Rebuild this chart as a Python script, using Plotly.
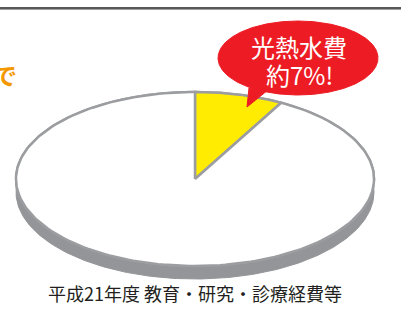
import numpy as np
import plotly.graph_objects as go

# ---- data ----
categories = ["光熱水費", "その他"]
shares = [8.0, 92.0]          # slice sizes (percent)
bubble_lines = ["光熱水費", "約7%!"]
caption = "平成21年度 教育・研究・診療経費等"
side_text = "で"

# ---- geometry (pixel-space figure) ----
W, H = 401, 316
cx, cy, rx, ry, depth = 195, 179, 179, 87, 13
slice_colors = ["#FFEC00", "#FFFFFF"]
rim = "#9C9DA0"
side_col = "#939598"

def ell(c_x, c_y, a, b, t):
    return c_x + a * np.sin(t), c_y - b * np.cos(t)

fig = go.Figure()

# side (depth) of the disc
t = np.linspace(0, 2 * np.pi, 400)
x, y = ell(cx, cy + depth, rx, ry, t)
fig.add_trace(go.Scatter(x=x, y=y, fill="toself", fillcolor=side_col, mode="lines",
                         line=dict(color=side_col, width=1), hoverinfo="skip"))
# top face
x, y = ell(cx, cy, rx, ry, t)
fig.add_trace(go.Scatter(x=x, y=y, fill="toself", fillcolor="#FFFFFF", mode="lines",
                         line=dict(color=rim, width=2.5), hoverinfo="skip"))

# slices, clockwise from 12 o'clock
start = 0.0
for name, s, col in zip(categories, shares, slice_colors):
    end = start + s / 100 * 2 * np.pi
    tt = np.linspace(start, end, 200)
    ax_, ay_ = ell(cx, cy, rx, ry, tt)
    xs = np.concatenate([[cx], ax_, [cx]])
    ys = np.concatenate([[cy], ay_, [cy]])
    fig.add_trace(go.Scatter(x=xs, y=ys, fill="toself", fillcolor=col, mode="lines",
                             line=dict(color=rim, width=2.5), name=name, hoverinfo="skip"))
    start = end

# speech bubble
bx, by, brx, bry = 298, 58, 80, 37
x, y = ell(bx, by, brx, bry, t)
fig.add_trace(go.Scatter(x=x, y=y, fill="toself", fillcolor="#ED1C24", mode="lines",
                         line=dict(color="#ED1C24", width=1), hoverinfo="skip"))
fig.add_trace(go.Scatter(x=[249, 268, 247, 249], y=[88, 90, 107, 88], fill="toself",
                         fillcolor="#ED1C24", mode="lines",
                         line=dict(color="#ED1C24", width=1), hoverinfo="skip"))

fig.add_annotation(x=bx + 1, y=46, text=bubble_lines[0], showarrow=False,
                   font=dict(family="Noto Sans CJK JP", size=24, color="white"))
fig.add_annotation(x=bx + 1, y=74, text=bubble_lines[1], showarrow=False,
                   font=dict(family="Noto Sans CJK JP", size=24, color="white"))
fig.add_annotation(x=195, y=293, text=caption, showarrow=False,
                   font=dict(family="Noto Sans CJK JP", size=18, color="#231F20"))
fig.add_annotation(x=0, y=74, text="<b>" + side_text + "</b>", showarrow=False,
                   xanchor="right", xshift=19,
                   font=dict(family="Noto Sans CJK JP", size=24, color="#F39800"))

# header rule
fig.add_shape(type="line", x0=0, x1=W, y0=8, y1=8, line=dict(color="#231F20", width=1.5))
fig.add_shape(type="line", x0=0, x1=W, y0=9.5, y1=9.5, line=dict(color="#A0A0A0", width=1))

fig.update_layout(width=W, height=H, margin=dict(l=0, r=0, t=0, b=0),
                  paper_bgcolor="white", plot_bgcolor="white", showlegend=False,
                  xaxis=dict(range=[0, W], visible=False, fixedrange=True),
                  yaxis=dict(range=[H, 0], visible=False, fixedrange=True))
fig.write_html("out.html", config={"displayModeBar": False},
               post_script="document.body.style.margin='0';document.body.style.overflow='hidden';")
